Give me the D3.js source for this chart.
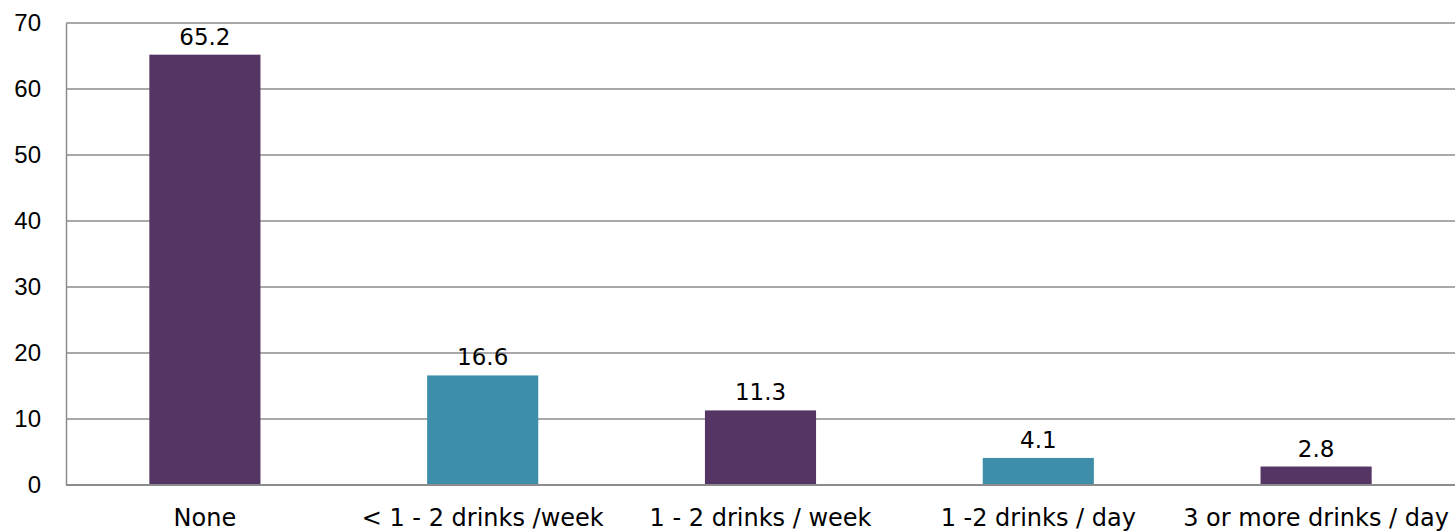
<!DOCTYPE html>
<html><head><meta charset="utf-8">
<script src="https://cdn.jsdelivr.net/npm/d3@7"></script>
<style>body{margin:0;background:#fff}</style>
</head><body>
<svg id="c" width="1455" height="532"></svg>
<script>
const categories = ["None", "< 1 - 2 drinks /week", "1 - 2 drinks / week", "1 -2 drinks / day", "3 or more drinks / day"];
const values = [65.2, 16.6, 11.3, 4.1, 2.8];
const barColors = ["#543563", "#3f8ea9", "#543563", "#3f8ea9", "#543563"];
const yTicks = [0, 10, 20, 30, 40, 50, 60, 70];

const svg = d3.select("#c");
const m = {l: 66, r: 0, t: 23, b: 47};
const W = 1455, H = 532;
const x = d3.scaleBand().domain(categories).range([m.l, W - m.r]).paddingInner(0.6).paddingOuter(0.3);
const y = d3.scaleLinear().domain([0, 70]).range([H - m.b, m.t]);

// gridlines
svg.append("g").selectAll("line").data(yTicks.filter(d => d > 0)).join("line")
  .attr("x1", m.l).attr("x2", W).attr("y1", d => y(d)).attr("y2", d => y(d))
  .attr("stroke", "#8c8c8c").attr("stroke-width", 1.3);

// y axis
const ya = svg.append("g").attr("transform", `translate(${m.l},0)`)
  .call(d3.axisLeft(y).tickValues(yTicks).tickSize(0).tickPadding(25));
ya.select(".domain").attr("stroke", "#8c8c8c").attr("stroke-width", 1.5);
ya.selectAll("text").attr("font-family", "Liberation Sans, Arial, sans-serif").attr("font-size", 24).attr("fill", "#000");

// bars
svg.append("g").selectAll("rect").data(values).join("rect")
  .attr("x", (d, i) => x(categories[i])).attr("width", x.bandwidth())
  .attr("y", d => y(d)).attr("height", d => y(0) - y(d))
  .attr("fill", (d, i) => barColors[i]);

// x axis baseline
svg.append("line").attr("x1", m.l).attr("x2", W).attr("y1", y(0)).attr("y2", y(0))
  .attr("stroke", "#8c8c8c").attr("stroke-width", 2);

// category labels
const xa = svg.append("g").attr("transform", `translate(0,${y(0)})`)
  .call(d3.axisBottom(x).tickSize(0).tickPadding(24));
xa.select(".domain").remove();
xa.selectAll("text").attr("font-family", "DejaVu Sans, Verdana, sans-serif").attr("font-size", 24).attr("fill", "#000");

// value labels
svg.append("g").selectAll("text").data(values).join("text")
  .attr("x", (d, i) => x(categories[i]) + x.bandwidth() / 2)
  .attr("y", d => y(d) - 10)
  .attr("text-anchor", "middle")
  .attr("font-family", "DejaVu Sans, Verdana, sans-serif").attr("font-size", 23).attr("fill", "#000")
  .text(d => d.toFixed(1));
</script>
</body></html>
